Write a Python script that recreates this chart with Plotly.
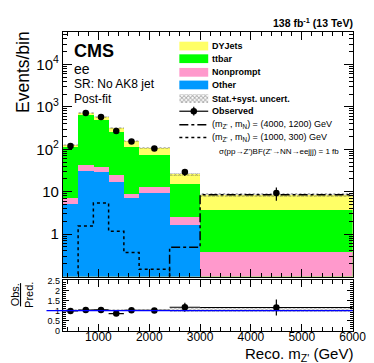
import numpy as np
import plotly.graph_objects as go

# %%
# binning and post-fit yields (events/bin)
bin_edges = [300, 600, 900, 1200, 1500, 1800, 2400, 3000, 6000]
other = [5.0, 30.0, 28.6, 16.3, 6.8, 9.3, 1.58, 0.05]
nonprompt = [2.0, 12.7, 8.4, 8.1, 2.0, 3.2, 0.92, 0.32]
ttbar = [105.0, 597.0, 433.0, 223.0, 99.0, 59.5, 12.4, 3.3]
dyjets = [10.0, 60.0, 90.0, 68.0, 42.0, 31.0, 10.0, 4.4]
unc_rel = [0.04, 0.04, 0.04, 0.05, 0.05, 0.05, 0.10, 0.10]

observed = [120.0, 720.0, 578.0, 268.0, 152.0, 104.0, 29.0, 9.3]
observed_err = [11.0, 27.0, 24.0, 16.0, 12.0, 10.0, 5.5, 3.2]

# signals, 1 fb
sig_4000_1200 = [0.01, 0.01, 0.01, 0.01, 0.01, 0.01, 0.49, 8.5]
sig_1000_300 = [0.01, 1.55, 5.4, 1.17, 0.37, 0.148, 0.01, 0.01]

y_tickvals = [1, 10, 100, 1000, 10000]
y_ticktext = ["1", "10", "10<sup>2</sup>", "10<sup>3</sup>", "10<sup>4</sup>"]
r_tickvals = [0, 0.5, 1, 1.5, 2, 2.5]
r_ticktext = ["0", "0.5", "1", "1.5", "2", "2.5"]

# %%
edges = np.array(bin_edges, dtype=float)
centers = 0.5 * (edges[1:] + edges[:-1])
widths = edges[1:] - edges[:-1]

stack = np.cumsum([other, nonprompt, ttbar, dyjets], axis=0)
total = stack[-1]
unc = np.array(unc_rel) * total
ratio = np.array(observed) / total
ratio_err = np.array(observed_err) / total

W, H = 374, 363
FONT = "Liberation Sans, Arial, sans-serif"
c_dy, c_tt, c_np, c_ot = "#FFFF66", "#00FF00", "#FF99CC", "#0099FF"

def px(x):
    return x / W

def py(y):
    return 1 - y / H

fig = go.Figure()

# stacked backgrounds drawn tallest first (ROOT style)
for vals, col in [(stack[3], c_dy), (stack[2], c_tt), (stack[1], c_np), (stack[0], c_ot)]:
    fig.add_trace(go.Bar(x=centers.tolist(), y=vals.tolist(), width=widths.tolist(), marker_color=col,
                         marker_line_width=0, showlegend=False, xaxis="x", yaxis="y"))

hatch = dict(shape="x", fgcolor="#555555", size=3, solidity=0.5)
fig.add_trace(go.Bar(x=centers.tolist(), y=(2 * unc).tolist(), base=(total - unc).tolist(), width=widths.tolist(),
                     marker=dict(color="rgba(0,0,0,0)", line_width=0, pattern=hatch),
                     showlegend=False, xaxis="x", yaxis="y"))

step_x = edges.tolist()
fig.add_trace(go.Scatter(x=step_x, y=sig_4000_1200 + [sig_4000_1200[-1]], mode="lines",
                         line=dict(shape="hv", color="black", width=1.5, dash="dashdot"),
                         showlegend=False, xaxis="x", yaxis="y"))
fig.add_trace(go.Scatter(x=step_x, y=sig_1000_300 + [sig_1000_300[-1]], mode="lines",
                         line=dict(shape="hv", color="black", width=1.5, dash="dot"),
                         showlegend=False, xaxis="x", yaxis="y"))

fig.add_trace(go.Scatter(x=centers.tolist(), y=observed, mode="markers",
                         marker=dict(color="black", size=6.5),
                         error_y=dict(type="data", array=observed_err, color="black", thickness=1.2, width=0),
                         showlegend=False, xaxis="x", yaxis="y"))

# ratio panel
fig.add_trace(go.Bar(x=centers.tolist(), y=(2 * np.array(unc_rel)).tolist(),
                     base=(1 - np.array(unc_rel)).tolist(), width=widths.tolist(),
                     marker=dict(color="rgba(0,0,0,0)", line_width=0, pattern=hatch),
                     showlegend=False, xaxis="x2", yaxis="y2"))
fig.add_trace(go.Scatter(x=centers.tolist(), y=ratio.tolist(), mode="markers",
                         marker=dict(color="black", size=6.5),
                         error_x=dict(type="data", array=(widths / 2).tolist(), color="black", thickness=1.2, width=0),
                         error_y=dict(type="data", array=ratio_err.tolist(), color="black", thickness=1.2, width=0),
                         showlegend=False, xaxis="x2", yaxis="y2"))

# %%
# hand-made legend on an overlay axis in pixel units
legend_rows = [34, 47, 61, 74, 88, 101, 115, 128, 142]
sx0, sx1, tx = 178, 208, 210
for row, col in zip(legend_rows[:4], [c_dy, c_tt, c_np, c_ot]):
    fig.add_trace(go.Scatter(x=[sx0, sx1, sx1, sx0, sx0], y=[row - 4.5, row - 4.5, row + 4.5, row + 4.5, row - 4.5],
                             mode="lines", line_width=0, fill="toself", fillcolor=col, showlegend=False,
                             xaxis="x3", yaxis="y3", hoverinfo="skip"))
r = legend_rows[4]
fig.add_trace(go.Scatter(x=[sx0, sx1, sx1, sx0, sx0], y=[r - 4.5, r - 4.5, r + 4.5, r + 4.5, r - 4.5],
                         mode="lines", line_width=0, fill="toself", fillcolor="white",
                         fillpattern=dict(shape="x", fgcolor="#555555", size=3, solidity=0.5),
                         showlegend=False, xaxis="x3", yaxis="y3", hoverinfo="skip"))
r = legend_rows[5]
fig.add_trace(go.Scatter(x=[sx0, sx1], y=[r, r], mode="lines", line=dict(color="black", width=1.2),
                         showlegend=False, xaxis="x3", yaxis="y3", hoverinfo="skip"))
fig.add_trace(go.Scatter(x=[(sx0 + sx1) / 2], y=[r], mode="markers", marker=dict(color="black", size=6.5),
                         error_y=dict(type="data", array=[4.5], color="black", thickness=1.2, width=0),
                         showlegend=False, xaxis="x3", yaxis="y3", hoverinfo="skip"))
for r, dash in [(legend_rows[6], "dashdot"), (legend_rows[7], "dot")]:
    fig.add_trace(go.Scatter(x=[sx0, sx1], y=[r, r], mode="lines", line=dict(color="black", width=1.5, dash=dash),
                             showlegend=False, xaxis="x3", yaxis="y3", hoverinfo="skip"))

legend_text = ["<b>DYJets</b>", "<b>ttbar</b>", "<b>Nonprompt</b>", "<b>Other</b>",
               "<b>Stat.+syst. uncert.</b>", "<b>Observed</b>",
               "(m<sub>Z'</sub> , m<sub>N</sub>) = (4000, 1200) GeV",
               "(m<sub>Z'</sub> , m<sub>N</sub>) = (1000, 300) GeV"]
annotations = []
for r, t in zip(legend_rows, legend_text):
    annotations.append(dict(x=px(tx), y=py(r), xref="paper", yref="paper", text=t, showarrow=False,
                            xanchor="left", yanchor="middle", font=dict(size=9, family=FONT, color="black")))
annotations.append(dict(x=px(346), y=py(legend_rows[8]), xref="paper", yref="paper",
                        text="σ(pp→Z')BF(Z'→NN→eejjj) = 1 fb", showarrow=False,
                        xanchor="right", yanchor="middle", font=dict(size=8, family=FONT, color="black")))

# CMS labels
for y, t, s in [(39, "<b>CMS</b>", 18), (58, "ee", 14), (73.5, "SR: No AK8 jet", 12), (88.5, "Post-fit", 12)]:
    annotations.append(dict(x=px(66), y=py(y), xref="paper", yref="paper", showarrow=False,
                            xanchor="left", yanchor="middle", text=t,
                            font=dict(size=s, family=FONT, color="black")))

annotations += [
    dict(x=px(361), y=py(10), xref="paper", yref="paper", showarrow=False, xanchor="right", yanchor="middle",
         text="<b>138 fb<sup>-1</sup> (13 TeV)</b>", font=dict(size=10.5, family=FONT, color="black")),
    dict(x=px(15), y=py(16), xref="paper", yref="paper", showarrow=False, xanchor="center", yanchor="top",
         textangle=-90, text="Events/bin", font=dict(size=17.5, family=FONT, color="black")),
    dict(x=px(15), y=py(274), xref="paper", yref="paper", showarrow=False, xanchor="center", yanchor="top",
         textangle=-90, text="<u>Obs.</u><br>Pred.", font=dict(size=11, family=FONT, color="black")),
    dict(x=px(361), y=py(351), xref="paper", yref="paper", showarrow=False, xanchor="right", yanchor="middle",
         text="Reco. m<sub>Z'</sub> (GeV)", font=dict(size=15, family=FONT, color="black")),
]

# %%
def axis(**kw):
    d = dict(showline=True, linecolor="black", linewidth=1, mirror="ticks", ticks="inside",
             tickcolor="black", showgrid=False, zeroline=False)
    d.update(kw)
    return d

x_dom = [px(57), px(358)]
log_minor = [m * 10.0 ** e for e in range(-1, 5) for m in range(2, 10)]

fig.update_layout(
    width=W, height=H, margin=dict(l=0, r=0, t=0, b=0),
    paper_bgcolor="white", plot_bgcolor="rgba(0,0,0,0)",
    barmode="overlay", bargap=0, showlegend=False,
    font=dict(family=FONT, color="black"),
    xaxis=axis(domain=x_dom, range=[300, 6000], anchor="y", showticklabels=False,
               dtick=1000, tick0=0, ticklen=8,
               minor=dict(ticks="inside", dtick=200, tick0=0, ticklen=4, tickcolor="black")),
    yaxis=axis(domain=[py(271), py(20)], type="log", range=[-1, 4.754], anchor="x",
               tickvals=y_tickvals, ticktext=y_ticktext, ticklen=9, tickfont=dict(size=15),
               minor=dict(ticks="inside", tickvals=log_minor, ticklen=4, tickcolor="black")),
    xaxis2=axis(domain=x_dom, range=[300, 6000], anchor="y2",
                dtick=1000, tick0=0, ticklen=7, tickfont=dict(size=12), ticklabelstandoff=-5,
                minor=dict(ticks="inside", dtick=200, tick0=0, ticklen=3.5, tickcolor="black")),
    yaxis2=axis(domain=[py(326.7), py(275)], range=[0, 2.5], anchor="x2",
                tickvals=r_tickvals, ticktext=r_ticktext, ticklen=6, tickfont=dict(size=9),
                minor=dict(ticks="inside", dtick=0.1, ticklen=3, tickcolor="black")),
    xaxis3=dict(domain=[0, 1], range=[0, W], visible=False, anchor="y3", fixedrange=True),
    yaxis3=dict(domain=[0, 1], range=[H, 0], visible=False, anchor="x3", fixedrange=True),
    annotations=annotations,
    shapes=[dict(type="line", xref="paper", yref="y2", x0=px(40), x1=px(358), y0=1, y1=1,
                 line=dict(color="#0000FF", width=1.2))],
)

fig.write_html("out.html")
